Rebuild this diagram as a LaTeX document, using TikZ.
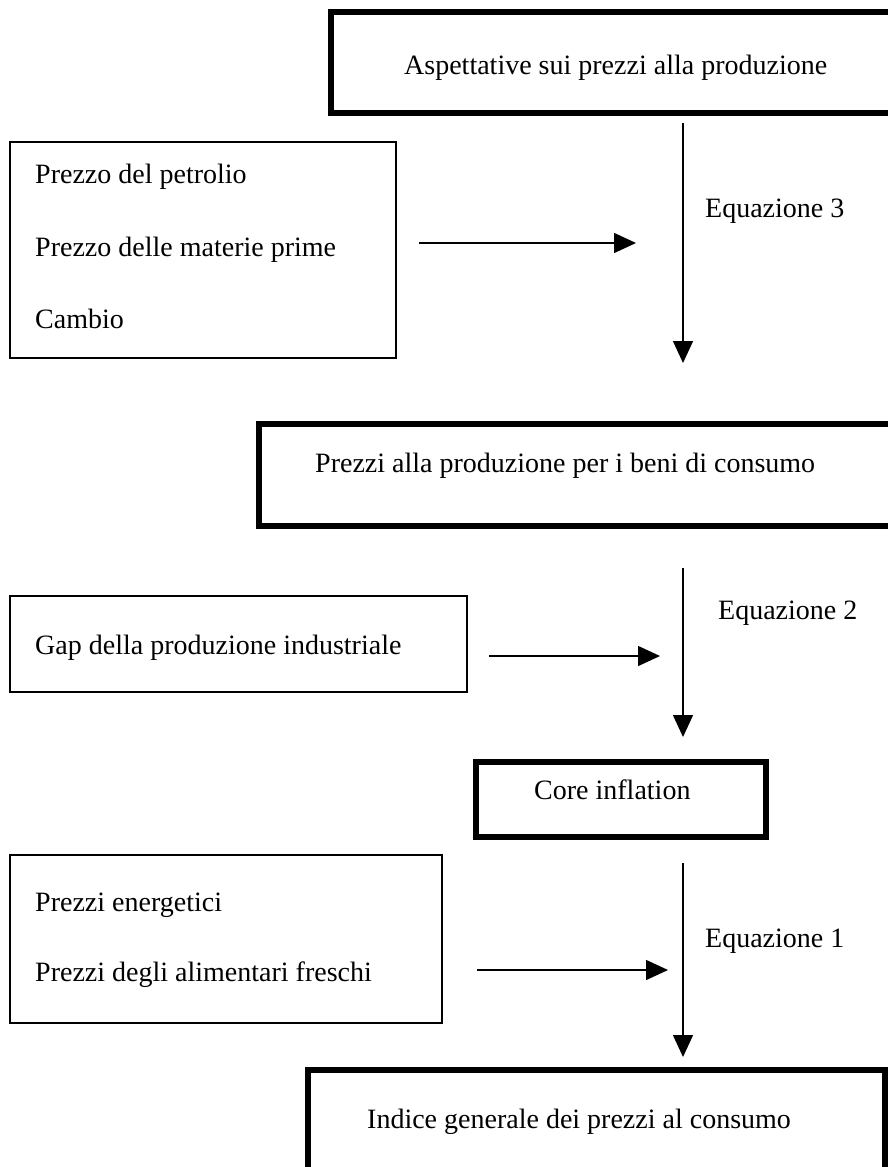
\documentclass[tikz,border=0pt]{standalone}
\usepackage{fontspec}
\setmainfont{Liberation Serif}
\usetikzlibrary{arrows.meta}
\begin{document}
\begin{tikzpicture}[x=1pt,y=-1pt,
  thickbox/.style={draw=black,line width=5.5pt,inner sep=0pt},
  thinbox/.style={draw=black,line width=1.6pt,inner sep=0pt},
  lbl/.style={anchor=mid west,inner sep=0pt,yshift=-7pt,font=\fontsize{28}{32}\selectfont},
  flow/.style={line width=1.5pt,-{Triangle[length=22pt,width=20pt]}}]
\useasboundingbox (0,0) rectangle (888,1167);
% boxes
\draw[thickbox] (331,12) rectangle (896,113);
\node (b1) at (613,62) {};
\draw[thinbox] (10,142) rectangle (396,358);
\node (b2) at (203,250) {};
\draw[thickbox] (259,424) rectangle (896,526);
\node (b3) at (577,475) {};
\draw[thinbox] (10,596) rectangle (467,692);
\node (b4) at (238,644) {};
\draw[thickbox] (476,762) rectangle (766,837);
\node (b5) at (621,800) {};
\draw[thinbox] (10,855) rectangle (442,1023);
\node (b6) at (226,939) {};
\draw[thickbox] (308,1070) rectangle (885,1172);
\node (b7) at (596,1120) {};
% texts
\node[lbl] (t1) at (404,65) {Aspettative sui prezzi alla produzione};
\node[lbl] (t2a) at (35,174) {Prezzo del petrolio};
\node[lbl] (t2b) at (35,247) {Prezzo delle materie prime};
\node[lbl] (t2c) at (35,319) {Cambio};
\node[lbl] (t3) at (315,463) {Prezzi alla produzione per i beni di consumo};
\node[lbl] (t4) at (35,645) {Gap della produzione industriale};
\node[lbl] (t5) at (534,790) {Core inflation};
\node[lbl] (t6a) at (35,902) {Prezzi energetici};
\node[lbl] (t6b) at (35,972) {Prezzi degli alimentari freschi};
\node[lbl] (t7) at (367,1119) {Indice generale dei prezzi al consumo};
\node[lbl] (e3) at (705,208) {Equazione 3};
\node[lbl] (e2) at (718,610) {Equazione 2};
\node[lbl] (e1) at (705,938) {Equazione 1};
% connector endpoints
\coordinate (v3s) at (683,123);
\coordinate (v3e) at (683,363);
\coordinate (v2s) at (683,568);
\coordinate (v2e) at (683,737);
\coordinate (v1s) at (683,863);
\coordinate (v1e) at (683,1057);
\coordinate (h3s) at (419,243);
\coordinate (h3e) at (636,243);
\coordinate (h2s) at (489,656);
\coordinate (h2e) at (660,656);
\coordinate (h1s) at (477,970);
\coordinate (h1e) at (668,970);
% arrows
\draw[flow] (v3s) -- (v3e);
\draw[flow] (v2s) -- (v2e);
\draw[flow] (v1s) -- (v1e);
\draw[flow] (h3s) -- (h3e);
\draw[flow] (h2s) -- (h2e);
\draw[flow] (h1s) -- (h1e);
\end{tikzpicture}
\end{document}
